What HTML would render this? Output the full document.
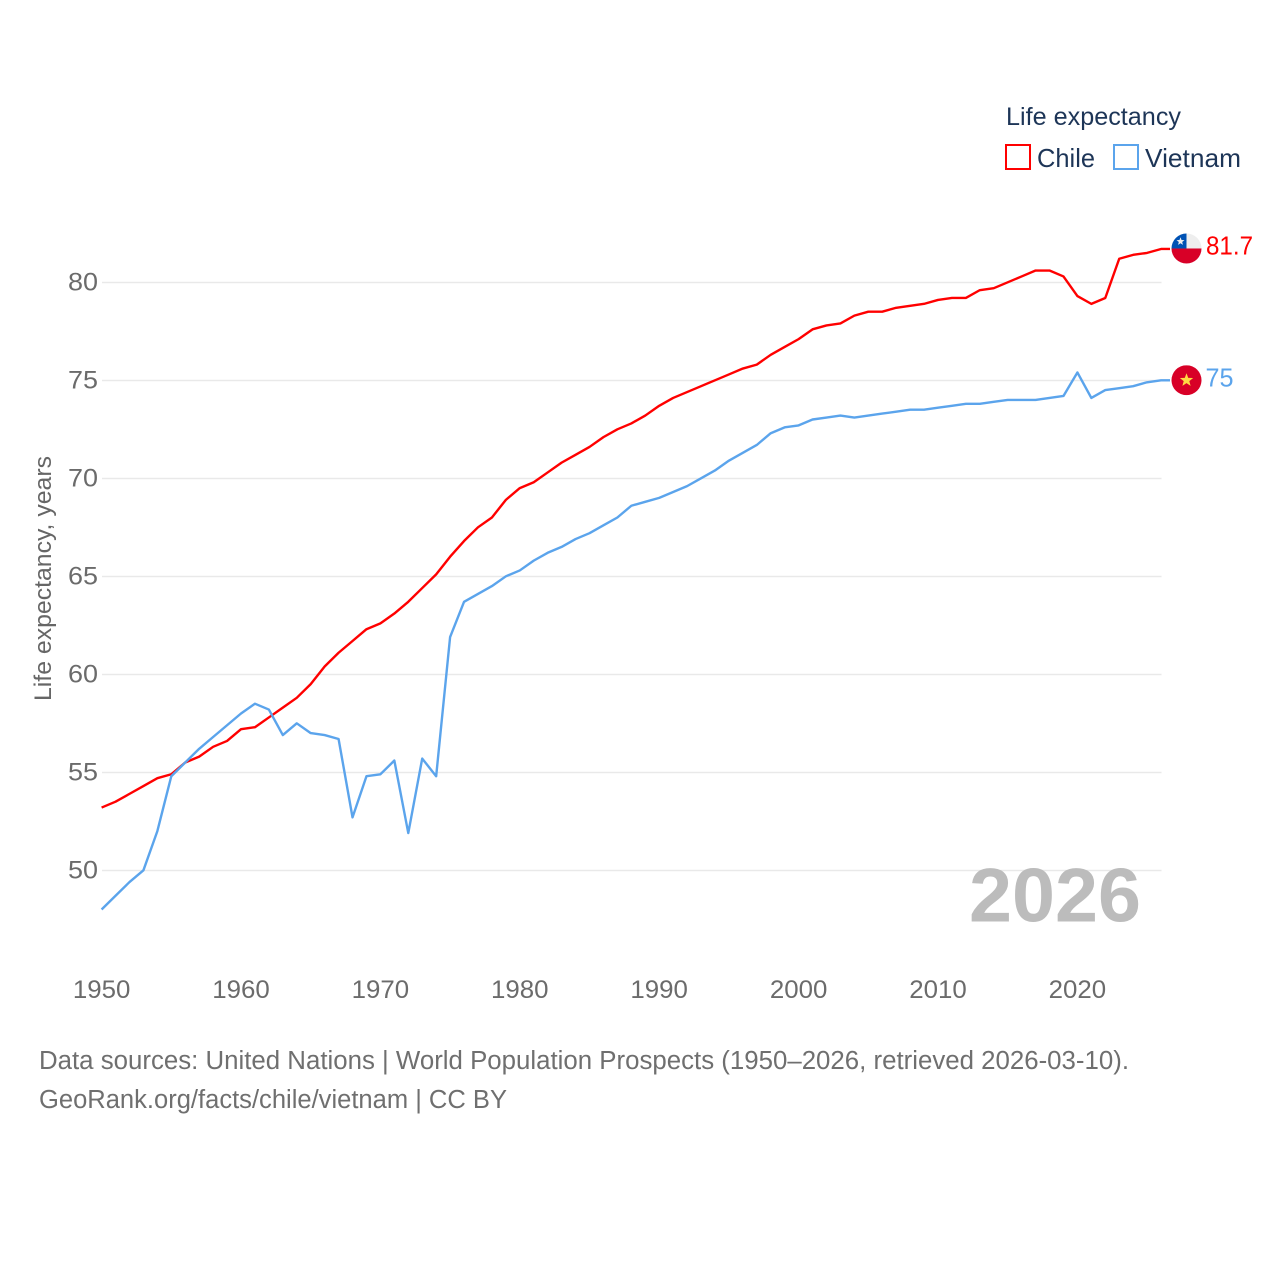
<!DOCTYPE html>
<html lang="en">
<head>
<meta charset="utf-8">
<title>Life expectancy: Chile vs Vietnam</title>
<style>
html,body{margin:0;padding:0;background:#fff;}
svg{display:block;}
text{font-family:"Liberation Sans",sans-serif;}
</style>
</head>
<body>
<svg id="chart" width="1280" height="1280" viewBox="0 0 1280 1280" xmlns="http://www.w3.org/2000/svg">
  <defs>
    <clipPath id="flag-clip-chile"><circle id="clip-chile" cx="1186.5" cy="249" r="15"></circle></clipPath>
    <clipPath id="flag-clip-vietnam"><circle id="clip-vietnam" cx="1186.5" cy="380" r="15"></circle></clipPath>
  </defs>
  <g id="grid"></g>
  <g id="yticks"></g>
  <g id="xticks"></g>
  <text x="969" y="921.5" font-size="76" font-weight="700" fill="#bcbcbc" textLength="172" lengthAdjust="spacingAndGlyphs">2026</text>
  <g id="series"></g>
  <g id="ends"></g>
  <text transform="translate(51,701) rotate(-90)" font-size="24.5" fill="#666" textLength="245" lengthAdjust="spacingAndGlyphs">Life expectancy, years</text>
  <g>
    <text x="1006" y="125" font-size="25" fill="#1d3557" textLength="175" lengthAdjust="spacingAndGlyphs">Life expectancy</text>
    <rect x="1006" y="145" width="24" height="24" fill="none" stroke="#ff0000" stroke-width="2"></rect>
    <text x="1037" y="167" font-size="26" fill="#1d3557" textLength="58" lengthAdjust="spacingAndGlyphs">Chile</text>
    <rect x="1114" y="145" width="24" height="24" fill="none" stroke="#5ba4ec" stroke-width="2"></rect>
    <text x="1145" y="167" font-size="26" fill="#1d3557" textLength="96" lengthAdjust="spacingAndGlyphs">Vietnam</text>
  </g>
  <g>
    <text x="39" y="1069" font-size="25.5" fill="#6f6f6f" textLength="1090" lengthAdjust="spacingAndGlyphs">Data sources: United Nations | World Population Prospects (1950–2026, retrieved 2026-03-10).</text>
    <text x="39" y="1108" font-size="25.5" fill="#6f6f6f" textLength="468" lengthAdjust="spacingAndGlyphs">GeoRank.org/facts/chile/vietnam | CC BY</text>
  </g>
</svg>
<script>
var firstYear = 1950;
var chileValues = [53.2,53.5,53.9,54.3,54.7,54.9,55.5,55.8,56.3,56.6,57.2,57.3,57.8,58.3,58.8,59.5,60.4,61.1,61.7,62.3,62.6,63.1,63.7,64.4,65.1,66.0,66.8,67.5,68.0,68.9,69.5,69.8,70.3,70.8,71.2,71.6,72.1,72.5,72.8,73.2,73.7,74.1,74.4,74.7,75.0,75.3,75.6,75.8,76.3,76.7,77.1,77.6,77.8,77.9,78.3,78.5,78.5,78.7,78.8,78.9,79.1,79.2,79.2,79.6,79.7,80.0,80.3,80.6,80.6,80.3,79.3,78.9,79.2,81.2,81.4,81.5,81.7];
var vietnamValues = [48.0,48.7,49.4,50.0,52.0,54.8,55.5,56.2,56.8,57.4,58.0,58.5,58.2,56.9,57.5,57.0,56.9,56.7,52.7,54.8,54.9,55.6,51.9,55.7,54.8,61.9,63.7,64.1,64.5,65.0,65.3,65.8,66.2,66.5,66.9,67.2,67.6,68.0,68.6,68.8,69.0,69.3,69.6,70.0,70.4,70.9,71.3,71.7,72.3,72.6,72.7,73.0,73.1,73.2,73.1,73.2,73.3,73.4,73.5,73.5,73.6,73.7,73.8,73.8,73.9,74.0,74.0,74.0,74.1,74.2,75.4,74.1,74.5,74.6,74.7,74.9,75.0];
var yTickLabels = [50,55,60,65,70,75,80];
var xTickLabels = [1950,1960,1970,1980,1990,2000,2010,2020];
var chileEndLabel = "81.7";
var vietnamEndLabel = "75";

var NS = "http://www.w3.org/2000/svg";
function xScale(year){ return 101.6 + (year - 1950) * 13.94; }
function yScale(v){ return 870.3 - (v - 50) * 19.6; }
function mk(tag, attrs, parent){
  var el = document.createElementNS(NS, tag);
  for (var k in attrs) el.setAttribute(k, attrs[k]);
  parent.appendChild(el);
  return el;
}
var grid = document.getElementById("grid");
var yticks = document.getElementById("yticks");
var xticks = document.getElementById("xticks");
var seriesG = document.getElementById("series");
var ends = document.getElementById("ends");

yTickLabels.forEach(function(t){
  var l = mk("line", {x1:102, x2:1161.5, y1:yScale(t)+0.2, y2:yScale(t)+0.2, stroke:"#e9e9e9", "stroke-width":1.6}, grid);
  
  
  var tx = mk("text", {x:98, y:yScale(t)+8.2, "text-anchor":"end", "font-size":25, fill:"#6b6b6b", textLength:30, lengthAdjust:"spacingAndGlyphs"}, yticks);
  
  
  tx.textContent = t;
});
xTickLabels.forEach(function(t){
  var tx = mk("text", {x:xScale(t), y:998, "text-anchor":"middle", "font-size":25, fill:"#6b6b6b", textLength:57.5, lengthAdjust:"spacingAndGlyphs"}, xticks);
  
  
  tx.textContent = t;
});
function drawLine(vals, color){
  var pts = vals.map(function(v,i){ return xScale(firstYear+i).toFixed(2)+","+yScale(v).toFixed(2); });
  var lastY = yScale(vals[vals.length-1]).toFixed(2);
  pts.push("1170,"+lastY);
  return mk("polyline", {points:pts.join(" "), fill:"none", stroke:color, "stroke-width":2.4, "stroke-linejoin":"round"}, seriesG);
}
var chileLine = drawLine(chileValues, "#ff0000");


var vietnamLine = drawLine(vietnamValues, "#5ba4ec");



function starPoints(cx, cy, r){
  var p = [];
  for (var i = 0; i < 10; i++){
    var rad = i % 2 ? r * 0.42 : r;
    var a = -Math.PI/2 + i * Math.PI/5;
    p.push((cx + rad*Math.cos(a)).toFixed(2) + "," + (cy + rad*Math.sin(a)).toFixed(2));
  }
  return p.join(" ");
}
var cx = 1186.5;
var cyC = yScale(chileValues[chileValues.length-1]) - 0.5;
var cyV = yScale(vietnamValues[vietnamValues.length-1]) - 0.1;
document.getElementById("clip-chile").setAttribute("cy", cyC);
document.getElementById("clip-vietnam").setAttribute("cy", cyV);

var chileFlag = mk("g", {"clip-path":"url(#flag-clip-chile)"}, ends);


mk("rect", {x:cx-15, y:cyC-15, width:30, height:15, fill:"#eeeeee"}, chileFlag);
mk("rect", {x:cx-15, y:cyC, width:30, height:15, fill:"#d80027"}, chileFlag);
mk("rect", {x:cx-15, y:cyC-15, width:15, height:15, fill:"#0052b4"}, chileFlag);
mk("polygon", {points:starPoints(cx-6, cyC-7, 4.2), fill:"#eeeeee"}, chileFlag);

var vietnamFlag = mk("g", {"clip-path":"url(#flag-clip-vietnam)"}, ends);


mk("rect", {x:cx-15, y:cyV-15, width:30, height:30, fill:"#d80027"}, vietnamFlag);
mk("polygon", {points:starPoints(cx, cyV, 7), fill:"#ffda44"}, vietnamFlag);

var chileLabel = mk("text", {x:1206, y:cyC+6, "font-size":25.5, fill:"#ff0000", textLength:47, lengthAdjust:"spacingAndGlyphs"}, ends);


chileLabel.textContent = chileEndLabel;
var vietnamLabel = mk("text", {x:1205.5, y:cyV+6.5, "font-size":25.5, fill:"#5ba4ec", textLength:28, lengthAdjust:"spacingAndGlyphs"}, ends);


vietnamLabel.textContent = vietnamEndLabel;
</script>
</body>
</html>
